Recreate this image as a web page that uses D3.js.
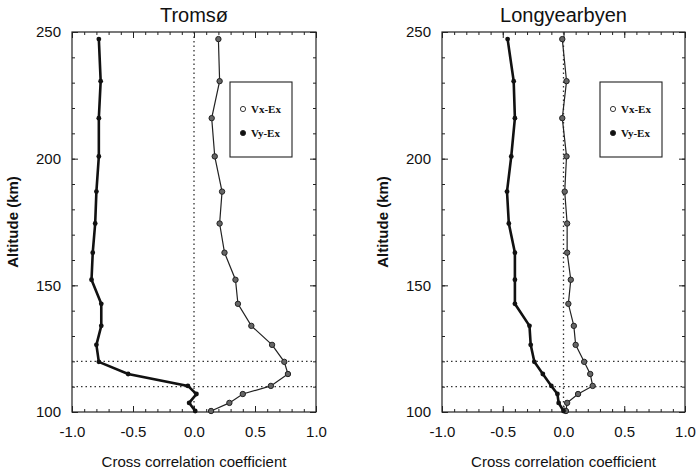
<!DOCTYPE html>
<html>
<head>
<meta charset="utf-8">
<script src="https://cdn.jsdelivr.net/npm/d3@7"></script>
<style>
body { margin: 0; background: #fff; }
text { font-family: "Liberation Sans", Arial, sans-serif; fill: #111; }
</style>
</head>
<body>
<script>
// altitude levels (km)
var altitudes = [100.4, 103.6, 107.1, 110.3, 115, 119.8, 126.5, 134, 142.7, 152.2, 162.9, 174.4, 187, 200.9, 216, 230.6, 247.2];

// Tromsø
var tromsoVy = [0.01, -0.04, 0.02, -0.05, -0.54, -0.78, -0.80, -0.76, -0.76, -0.84, -0.83, -0.81, -0.80, -0.78, -0.78, -0.765, -0.78];
var tromsoVx = [0.14, 0.29, 0.40, 0.63, 0.77, 0.74, 0.64, 0.47, 0.36, 0.34, 0.25, 0.21, 0.23, 0.17, 0.145, 0.21, 0.20];

// Longyearbyen
var longVy = [0.00, -0.04, -0.05, -0.10, -0.17, -0.24, -0.27, -0.28, -0.40, -0.40, -0.40, -0.45, -0.465, -0.43, -0.40, -0.41, -0.46];
var longVx = [0.02, 0.03, 0.12, 0.24, 0.22, 0.17, 0.10, 0.085, 0.04, 0.06, 0.03, 0.03, 0.01, 0.025, -0.01, 0.025, -0.01];

var xMajor = [-1.0, -0.5, 0.0, 0.5, 1.0];
var yMajor = [100, 150, 200, 250];
var refAlt = [110, 120];
var legendLabels = ["Vx-Ex", "Vy-Ex"];

var svg = d3.select("body").append("svg")
    .attr("width", 696)
    .attr("height", 475);

function range(a, b, s) { return d3.range(a, b + s / 2, s); }

function drawPanel(left, right, title, vx, vy) {
  var top = 32, bottom = 412;
  var x = d3.scaleLinear().domain([-1, 1]).range([left, right]);
  var y = d3.scaleLinear().domain([100, 250]).range([bottom, top]);
  var g = svg.append("g");

  // frame
  g.append("rect")
   .attr("x", left).attr("y", top)
   .attr("width", right - left).attr("height", bottom - top)
   .attr("fill", "none").attr("stroke", "#222").attr("stroke-width", 1.2);

  // ticks inward, all sides
  var xMinor = range(-1, 1, 0.1);
  var yMinor = range(100, 250, 10);
  function tickStyle(a) {
    a.select(".domain").remove();
    a.selectAll(".tick line").attr("stroke", "#222").attr("stroke-width", 1);
  }
  function labelStyle(a) {
    a.selectAll("text").attr("font-size", 15)
     .style("font-family", "Liberation Sans, Arial, sans-serif").attr("fill", "#111");
  }
  g.append("g").attr("transform", "translate(0," + bottom + ")")
   .call(d3.axisBottom(x).tickValues(xMinor).tickSize(-3).tickFormat(""))
   .call(tickStyle);
  g.append("g").attr("transform", "translate(0," + bottom + ")")
   .call(d3.axisBottom(x).tickValues(xMajor).tickSize(-6).tickPadding(14)
         .tickFormat(function(d) { return d.toFixed(1); }))
   .call(tickStyle).call(labelStyle);
  g.append("g").attr("transform", "translate(0," + top + ")")
   .call(d3.axisTop(x).tickValues(xMinor).tickSize(-3).tickFormat(""))
   .call(tickStyle);
  g.append("g").attr("transform", "translate(0," + top + ")")
   .call(d3.axisTop(x).tickValues(xMajor).tickSize(-6).tickFormat(""))
   .call(tickStyle);
  g.append("g").attr("transform", "translate(" + left + ",0)")
   .call(d3.axisLeft(y).tickValues(yMinor).tickSize(-3).tickFormat(""))
   .call(tickStyle);
  g.append("g").attr("transform", "translate(" + left + ",0)")
   .call(d3.axisLeft(y).tickValues(yMajor).tickSize(-6).tickPadding(11).tickFormat(d3.format("d")))
   .call(tickStyle).call(labelStyle);
  g.append("g").attr("transform", "translate(" + right + ",0)")
   .call(d3.axisRight(y).tickValues(yMinor).tickSize(-3).tickFormat(""))
   .call(tickStyle);
  g.append("g").attr("transform", "translate(" + right + ",0)")
   .call(d3.axisRight(y).tickValues(yMajor).tickSize(-6).tickFormat(""))
   .call(tickStyle);

  // dotted reference lines
  g.append("line")
   .attr("x1", x(0)).attr("x2", x(0)).attr("y1", top).attr("y2", bottom)
   .attr("stroke", "#333").attr("stroke-width", 1.3).attr("stroke-dasharray", "1.5,3");
  g.selectAll("line.ref").data(refAlt).enter().append("line")
   .attr("x1", left).attr("x2", right)
   .attr("y1", function(d) { return y(d); }).attr("y2", function(d) { return y(d); })
   .attr("stroke", "#333").attr("stroke-width", 1.3).attr("stroke-dasharray", "1.5,3");

  var line = d3.line()
    .x(function(d) { return x(d[0]); })
    .y(function(d) { return y(d[1]); });
  var ptsY = vy.map(function(v, i) { return [v, altitudes[i]]; });
  var ptsX = vx.map(function(v, i) { return [v, altitudes[i]]; });

  // Vx-Ex : thin line, open circles
  g.append("path").datum(ptsX).attr("d", line)
   .attr("fill", "none").attr("stroke", "#222").attr("stroke-width", 1.2);
  g.selectAll("circle.vx").data(ptsX).enter().append("circle")
   .attr("cx", function(d) { return x(d[0]); })
   .attr("cy", function(d) { return y(d[1]); })
   .attr("r", 2.7).attr("fill", "#666").attr("stroke", "#222").attr("stroke-width", 1);

  // Vy-Ex : thick line, filled dots
  g.append("path").datum(ptsY).attr("d", line)
   .attr("fill", "none").attr("stroke", "#111").attr("stroke-width", 2.6);
  g.selectAll("circle.vy").data(ptsY).enter().append("circle")
   .attr("cx", function(d) { return x(d[0]); })
   .attr("cy", function(d) { return y(d[1]); })
   .attr("r", 2.4).attr("fill", "#111");

  // legend
  var lx = left + 158, ly = 82;
  g.append("rect").attr("x", lx).attr("y", ly).attr("width", 62).attr("height", 75)
   .attr("fill", "#fff").attr("stroke", "#222").attr("stroke-width", 1.1);
  legendLabels.forEach(function(t, i) {
    var cy = ly + 27 + i * 24;
    g.append("circle").attr("cx", lx + 13).attr("cy", cy).attr("r", 2.6)
     .attr("fill", i === 0 ? "#fff" : "#111").attr("stroke", "#222").attr("stroke-width", 0.9);
    g.append("text").attr("x", lx + 21).attr("y", cy + 4)
     .attr("font-size", 11).attr("font-weight", "bold")
     .style("font-family", "Liberation Serif, Times New Roman, serif")
     .text(t);
  });

  // title
  g.append("text").attr("x", (left + right) / 2).attr("y", 22)
   .attr("text-anchor", "middle").attr("font-size", 20).text(title);

  // y label
  g.append("text")
   .attr("transform", "translate(" + (left - 54) + "," + ((top + bottom) / 2) + ") rotate(-90)")
   .attr("text-anchor", "middle").attr("font-size", 15).attr("font-weight", "bold")
   .text("Altitude (km)");

  // x label
  g.append("text").attr("x", (left + right) / 2).attr("y", 467)
   .attr("text-anchor", "middle").attr("font-size", 15).text("Cross correlation coefficient");
}

drawPanel(72, 316, "Tromsø", tromsoVx, tromsoVy);
drawPanel(442, 685, "Longyearbyen", longVx, longVy);
</script>
</body>
</html>
